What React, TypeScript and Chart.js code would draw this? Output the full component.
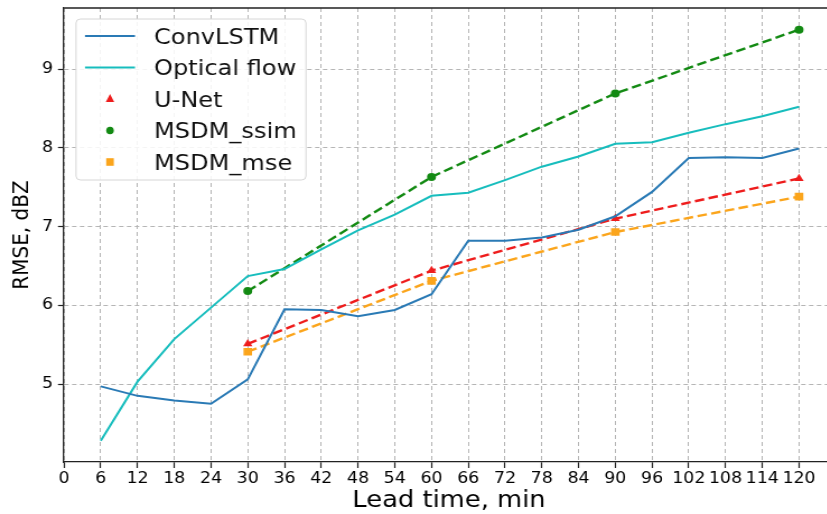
import React, { useEffect, useRef } from "react";
import { Chart, registerables } from "chart.js";

Chart.register(...registerables);

// ---- data ----
const leadTimes = [6, 12, 18, 24, 30, 36, 42, 48, 54, 60, 66, 72, 78, 84, 90, 96, 102, 108, 114, 120];
const convLSTM = [4.97, 4.85, 4.79, 4.75, 5.06, 5.95, 5.94, 5.86, 5.94, 6.14, 6.82, 6.82, 6.86, 6.96, 7.13, 7.44, 7.87, 7.88, 7.87, 7.99];
const opticalFlow = [4.28, 5.03, 5.57, 5.97, 6.37, 6.46, 6.71, 6.95, 7.15, 7.39, 7.43, 7.59, 7.76, 7.89, 8.05, 8.07, 8.19, 8.3, 8.4, 8.52];
const modelTimes = [30, 60, 90, 120];
const unet = [5.51, 6.44, 7.1, 7.61];
const msdmSsim = [6.18, 7.63, 8.69, 9.5];
const msdmMse = [5.41, 6.31, 6.93, 7.38];
const xTicks = [0, 6, 12, 18, 24, 30, 36, 42, 48, 54, 60, 66, 72, 78, 84, 90, 96, 102, 108, 114, 120];
const yTicks = [5, 6, 7, 8, 9];
const seriesLabels = ["ConvLSTM", "Optical flow", "U-Net", "MSDM_ssim", "MSDM_mse"];
const xTitle = "Lead time, min";
const yTitle = "RMSE, dBZ";

// ---- layout ----
const SX = 1.12; // horizontal stretch of the reference picture
const W = 750;
const H = 514;
const FONT = "'DejaVu Sans', 'Liberation Sans', sans-serif";

const toXY = (xs: number[], ys: number[]) => xs.map((x, i) => ({ x, y: ys[i] }));

const framePlugin = {
  id: "frame",
  afterDatasetsDraw(chart: any) {
    const { ctx, chartArea } = chart;
    ctx.save();
    ctx.strokeStyle = "#222";
    ctx.lineWidth = 1.3;
    ctx.beginPath();
    ctx.moveTo(chartArea.left, chartArea.top);
    ctx.lineTo(chartArea.right, chartArea.top);
    ctx.lineTo(chartArea.right, chartArea.bottom);
    ctx.stroke();
    ctx.restore();
  },
};

function drawMarker(ctx: CanvasRenderingContext2D, kind: string, cx: number, cy: number, color: string) {
  ctx.fillStyle = color;
  ctx.beginPath();
  if (kind === "triangle") {
    ctx.moveTo(cx, cy - 5);
    ctx.lineTo(cx + 4.2 / SX, cy + 3);
    ctx.lineTo(cx - 4.2 / SX, cy + 3);
    ctx.closePath();
  } else if (kind === "circle") {
    ctx.ellipse(cx, cy, 3.8 / SX, 3.8, 0, 0, Math.PI * 2);
  } else {
    ctx.rect(cx - 3.8 / SX, cy - 3.8, 7.6 / SX, 7.6);
  }
  ctx.fill();
}

const legendPlugin = {
  id: "customLegend",
  afterDraw(chart: any) {
    const ctx: CanvasRenderingContext2D = chart.ctx;
    const x0 = 76 / SX, y0 = 19, x1 = 306 / SX, y1 = 180, r = 4;
    ctx.save();
    ctx.beginPath();
    ctx.moveTo(x0 + r, y0);
    ctx.arcTo(x1, y0, x1, y1, r);
    ctx.arcTo(x1, y1, x0, y1, r);
    ctx.arcTo(x0, y1, x0, y0, r);
    ctx.arcTo(x0, y0, x1, y0, r);
    ctx.closePath();
    ctx.fillStyle = "rgba(255,255,255,0.85)";
    ctx.fill();
    ctx.strokeStyle = "#d6d6d6";
    ctx.lineWidth = 1;
    ctx.stroke();
    const fontSize = 21.5;
    ctx.font = `${fontSize}px ${FONT}`;
    ctx.textAlign = "left";
    ctx.textBaseline = "alphabetic";
    chart.data.datasets.forEach((ds: any, i: number) => {
      const cy = 36 + i * 31.5;
      if (ds.legendKind === "line") {
        ctx.strokeStyle = ds.borderColor;
        ctx.lineWidth = 2;
        ctx.setLineDash([]);
        ctx.beginPath();
        ctx.moveTo(85 / SX, cy);
        ctx.lineTo(135 / SX, cy);
        ctx.stroke();
      } else {
        drawMarker(ctx, ds.pointStyle, 110 / SX, cy, ds.pointBackgroundColor);
      }
      ctx.fillStyle = "#111";
      ctx.fillText(ds.label, 154 / SX, cy + fontSize * 0.365);
    });
    ctx.restore();
  },
};

const tickFont = { family: FONT, size: 15.5 };

function buildConfig(): any {
  const red = "#ee1c1c";
  const green = "#138a13";
  const orange = "#fba51c";
  const dashed = (label: string, xs: number[], ys: number[], color: string, style: string, radius: number) => ({
    label,
    data: toXY(xs, ys),
    borderColor: color,
    backgroundColor: color,
    borderWidth: 2.4,
    borderDash: [8.5, 4],
    pointStyle: style,
    pointRadius: radius,
    pointBackgroundColor: color,
    pointBorderColor: color,
    pointBorderWidth: 0,
    fill: false,
    tension: 0,
    legendKind: "marker",
  });
  return {
    type: "line",
    data: {
      datasets: [
        {
          label: seriesLabels[0],
          data: toXY(leadTimes, convLSTM),
          borderColor: "#2a7ab5",
          borderWidth: 2,
          pointRadius: 0,
          fill: false,
          tension: 0,
          legendKind: "line",
        },
        {
          label: seriesLabels[1],
          data: toXY(leadTimes, opticalFlow),
          borderColor: "#17bdbd",
          borderWidth: 2,
          pointRadius: 0,
          fill: false,
          tension: 0,
          legendKind: "line",
        },
        dashed(seriesLabels[2], modelTimes, unet, red, "triangle", 4.8),
        dashed(seriesLabels[3], modelTimes, msdmSsim, green, "circle", 4),
        dashed(seriesLabels[4], modelTimes, msdmMse, orange, "rect", 5.4),
      ],
    },
    options: {
      responsive: false,
      animation: false,
      devicePixelRatio: 1,
      layout: { padding: { left: 0, top: 8, right: W - 834 / SX, bottom: 0 } },
      plugins: { legend: { display: false }, tooltip: { enabled: false } },
      scales: {
        x: {
          type: "linear",
          min: 0,
          max: 125.7,
          afterBuildTicks: (s: any) => {
            s.ticks = xTicks.map((v) => ({ value: v }));
          },
          afterFit: (s: any) => {
            s.height = 52;
            s.paddingLeft = 0;
            s.paddingRight = 0;
          },
          ticks: {
            autoSkip: false,
            maxRotation: 0,
            minRotation: 0,
            color: "#000",
            font: tickFont,
            padding: 2,
            callback: (v: any) => String(v),
          },
          grid: {
            color: "#b5b5b5",
            lineWidth: 1,
            drawTicks: true,
            tickLength: 6,
            tickColor: "#222",
            tickWidth: 1.2,
          },
          border: { display: true, color: "#222", width: 1.3, dash: [4, 3] },
          title: {
            display: true,
            text: xTitle,
            color: "#000",
            font: { family: FONT, size: 23, lineHeight: 1.1 },
            padding: { top: 0, bottom: 0 },
          },
        },
        y: {
          type: "linear",
          min: 4.01,
          max: 9.775,
          afterBuildTicks: (s: any) => {
            s.ticks = yTicks.map((v) => ({ value: v }));
          },
          afterFit: (s: any) => {
            s.width = 64 / SX;
            s.paddingTop = 0;
            s.paddingBottom = 0;
          },
          ticks: {
            color: "#000",
            font: tickFont,
            padding: 4.3,
            callback: (v: any) => String(v),
          },
          grid: {
            color: "#b5b5b5",
            lineWidth: 1,
            drawTicks: true,
            tickLength: 5.4,
            tickColor: "#222",
            tickWidth: 1.2,
          },
          border: { display: true, color: "#222", width: 1.3, dash: [4, 3] },
          title: {
            display: true,
            text: yTitle,
            color: "#000",
            font: { family: FONT, size: 20, lineHeight: 1.2 },
            padding: { top: 7.6, bottom: 0 },
          },
        },
      },
    },
    plugins: [framePlugin, legendPlugin],
  };
}

export default function App() {
  const ref = useRef<HTMLCanvasElement>(null);
  useEffect(() => {
    if (!ref.current) return;
    const chart = new Chart(ref.current, buildConfig());
    return () => chart.destroy();
  }, []);
  return (
    <div
      style={{
        position: "fixed",
        left: 0,
        top: 0,
        width: 827,
        height: 514,
        overflow: "hidden",
        background: "#fff",
      }}
    >
      <canvas
        ref={ref}
        width={W}
        height={H}
        style={{ width: `${W * SX}px`, height: `${H}px`, display: "block" }}
      />
    </div>
  );
}
